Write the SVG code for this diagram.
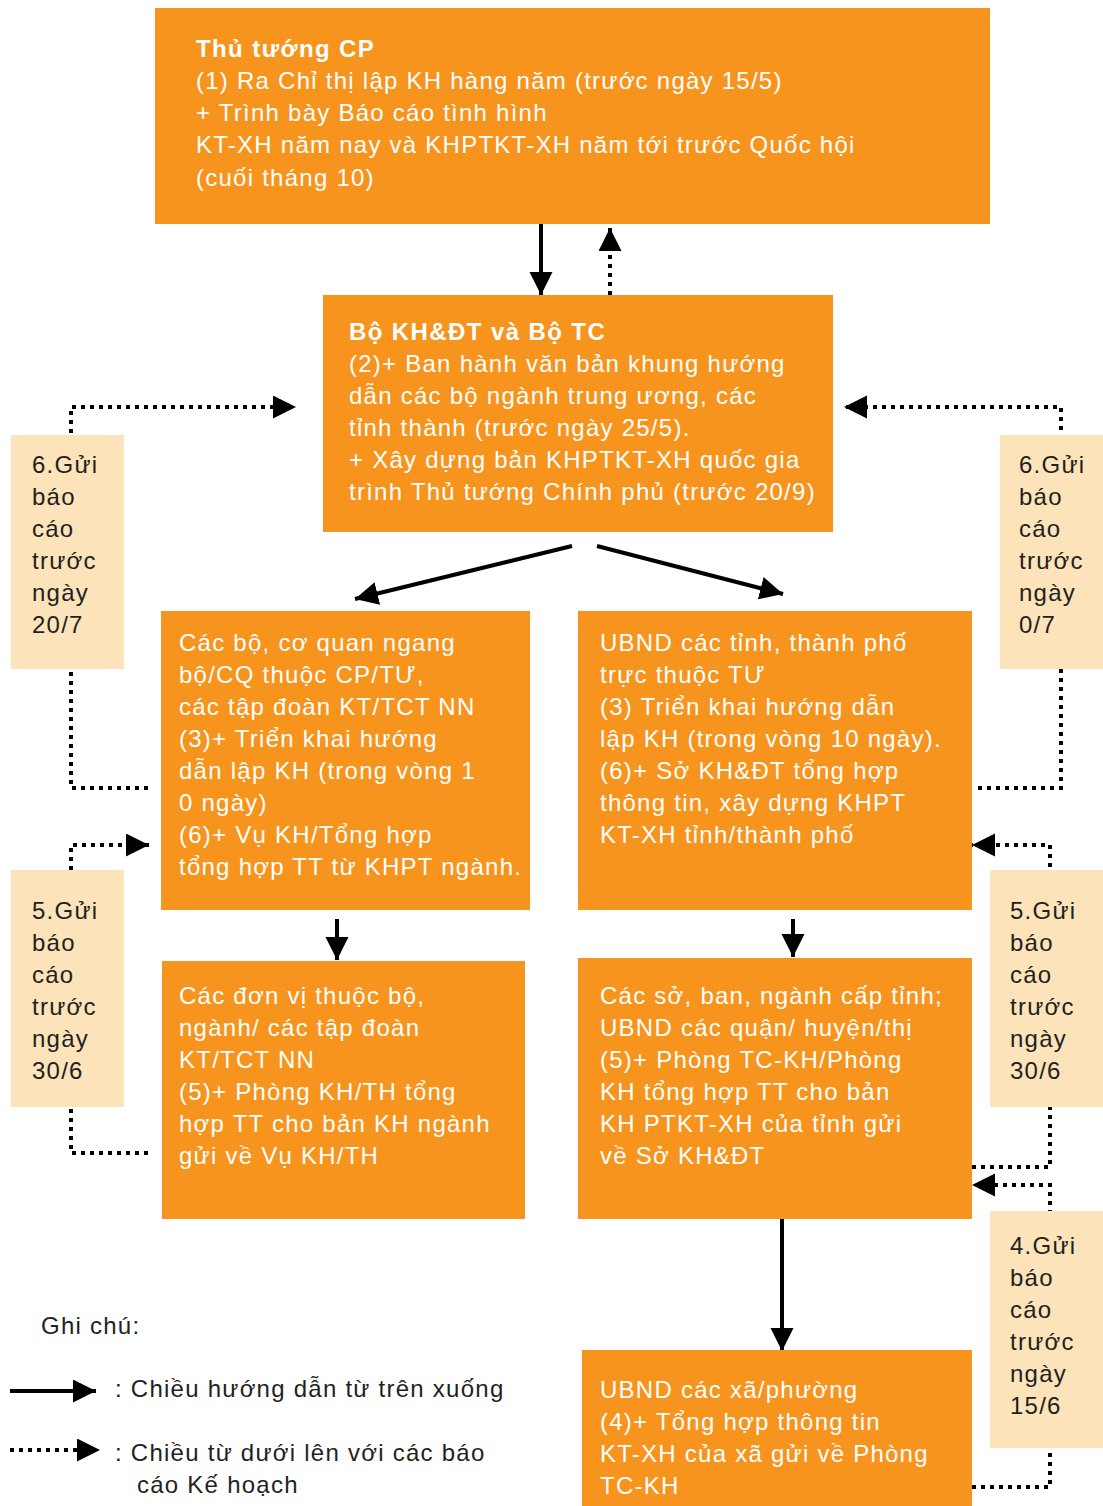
<svg xmlns="http://www.w3.org/2000/svg" width="1103" height="1506" viewBox="0 0 1103 1506">
<style>
.box{fill:#F7941E}
.note{fill:#FDE3BA}
.t{font-family:"Liberation Sans",Arial,sans-serif;font-size:24px;letter-spacing:1.25px;fill:#ffffff}
.b{font-weight:bold;letter-spacing:1.4px}
.n{font-family:"Liberation Sans",Arial,sans-serif;font-size:24px;letter-spacing:1.25px;fill:#231F20}
.solid{fill:none;stroke:#000;stroke-width:4}
.dot{fill:none;stroke:#000;stroke-width:4;stroke-dasharray:4 5}
</style>
<defs>
<marker id="ah" markerUnits="userSpaceOnUse" markerWidth="24" markerHeight="24" refX="23" refY="11.5" orient="auto">
<path d="M0,0 L23,11.5 L0,23 z" fill="#000"/>
</marker>
</defs>
<rect width="1103" height="1506" fill="#fff"/>
<g id="connectors">
<line class="solid" x1="541" y1="224" x2="541" y2="295" marker-end="url(#ah)"/>
<line class="dot" x1="610" y1="295" x2="610" y2="228" marker-end="url(#ah)"/>
<line class="solid" x1="572" y1="546" x2="355" y2="599" marker-end="url(#ah)"/>
<line class="solid" x1="597" y1="546" x2="783" y2="594" marker-end="url(#ah)"/>
<line class="solid" x1="337" y1="919" x2="337" y2="960" marker-end="url(#ah)"/>
<line class="solid" x1="793" y1="919" x2="793" y2="957" marker-end="url(#ah)"/>
<line class="solid" x1="782" y1="1219" x2="782" y2="1351" marker-end="url(#ah)"/>
<path class="dot" d="M148,788 H71 V407 H296" marker-end="url(#ah)"/>
<path class="dot" d="M978,788 H1061 V407 H844" marker-end="url(#ah)"/>
<path class="dot" d="M148,1153 H71 V845 H149" marker-end="url(#ah)"/>
<path class="dot" d="M972,1167 H1050 V845 H972" marker-end="url(#ah)"/>
<path class="dot" d="M972,1487 H1050 V1185 H972" marker-end="url(#ah)"/>
</g>
<g id="n1">
<rect class="box" x="155" y="8" width="835" height="216"/>
<text class="t b" x="196" y="57">Thủ tướng CP</text>
<text class="t" x="196" y="89">(1) Ra Chỉ thị lập KH hàng năm (trước ngày 15/5)</text>
<text class="t" x="196" y="121">+ Trình bày Báo cáo tình hình</text>
<text class="t" x="196" y="153">KT-XH năm nay và KHPTKT-XH năm tới trước Quốc hội</text>
<text class="t" x="196" y="186">(cuối tháng 10)</text>
</g>
<g id="n2">
<rect class="box" x="323" y="295" width="510" height="237"/>
<text class="t b" x="349" y="340">Bộ KH&amp;ĐT và Bộ TC</text>
<text class="t" x="349" y="372">(2)+ Ban hành văn bản khung hướng</text>
<text class="t" x="349" y="404">dẫn các bộ ngành trung ương, các</text>
<text class="t" x="349" y="436">tỉnh thành (trước ngày 25/5).</text>
<text class="t" x="349" y="468">+ Xây dựng bản KHPTKT-XH quốc gia</text>
<text class="t" x="349" y="500">trình Thủ tướng Chính phủ (trước 20/9)</text>
</g>
<g id="n3">
<rect class="box" x="161" y="611" width="369" height="299"/>
<text class="t" x="179" y="651">Các bộ, cơ quan ngang</text>
<text class="t" x="179" y="683">bộ/CQ thuộc CP/TƯ,</text>
<text class="t" x="179" y="715">các tập đoàn KT/TCT NN</text>
<text class="t" x="179" y="747">(3)+ Triển khai hướng</text>
<text class="t" x="179" y="779">dẫn lập KH (trong vòng 1</text>
<text class="t" x="179" y="811">0 ngày)</text>
<text class="t" x="179" y="843">(6)+ Vụ KH/Tổng hợp</text>
<text class="t" x="179" y="875">tổng hợp TT từ KHPT ngành.</text>
</g>
<g id="n4">
<rect class="box" x="578" y="611" width="394" height="299"/>
<text class="t" x="600" y="651">UBND các tỉnh, thành phố</text>
<text class="t" x="600" y="683">trực thuộc TƯ</text>
<text class="t" x="600" y="715">(3) Triển khai hướng dẫn</text>
<text class="t" x="600" y="747">lập KH (trong vòng 10 ngày).</text>
<text class="t" x="600" y="779">(6)+ Sở KH&amp;ĐT tổng hợp</text>
<text class="t" x="600" y="811">thông tin, xây dựng KHPT</text>
<text class="t" x="600" y="843">KT-XH tỉnh/thành phố</text>
</g>
<g id="n5">
<rect class="box" x="162" y="961" width="363" height="258"/>
<text class="t" x="179" y="1004">Các đơn vị thuộc bộ,</text>
<text class="t" x="179" y="1036">ngành/ các tập đoàn</text>
<text class="t" x="179" y="1068">KT/TCT NN</text>
<text class="t" x="179" y="1100">(5)+ Phòng KH/TH tổng</text>
<text class="t" x="179" y="1132">hợp TT cho bản KH ngành</text>
<text class="t" x="179" y="1164">gửi về Vụ KH/TH</text>
</g>
<g id="n6">
<rect class="box" x="578" y="958" width="394" height="261"/>
<text class="t" x="600" y="1004">Các sở, ban, ngành cấp tỉnh;</text>
<text class="t" x="600" y="1036">UBND các quận/ huyện/thị</text>
<text class="t" x="600" y="1068">(5)+ Phòng TC-KH/Phòng</text>
<text class="t" x="600" y="1100">KH tổng hợp TT cho bản</text>
<text class="t" x="600" y="1132">KH PTKT-XH của tỉnh gửi</text>
<text class="t" x="600" y="1164">về Sở KH&amp;ĐT</text>
</g>
<g id="n7">
<rect class="box" x="582" y="1350" width="390" height="156"/>
<text class="t" x="600" y="1398">UBND các xã/phường</text>
<text class="t" x="600" y="1430">(4)+ Tổng hợp thông tin</text>
<text class="t" x="600" y="1462">KT-XH của xã gửi về Phòng</text>
<text class="t" x="600" y="1494">TC-KH</text>
</g>
<g id="note-l6">
<rect class="note" x="11" y="435" width="113" height="234"/>
<text class="n" x="32" y="473">6.Gửi</text>
<text class="n" x="32" y="505">báo</text>
<text class="n" x="32" y="537">cáo</text>
<text class="n" x="32" y="569">trước</text>
<text class="n" x="32" y="601">ngày</text>
<text class="n" x="32" y="633">20/7</text>
</g>
<g id="note-r6">
<rect class="note" x="1000" y="435" width="103" height="234"/>
<text class="n" x="1019" y="473">6.Gửi</text>
<text class="n" x="1019" y="505">báo</text>
<text class="n" x="1019" y="537">cáo</text>
<text class="n" x="1019" y="569">trước</text>
<text class="n" x="1019" y="601">ngày</text>
<text class="n" x="1019" y="633">0/7</text>
</g>
<g id="note-l5">
<rect class="note" x="11" y="870" width="113" height="237"/>
<text class="n" x="32" y="919">5.Gửi</text>
<text class="n" x="32" y="951">báo</text>
<text class="n" x="32" y="983">cáo</text>
<text class="n" x="32" y="1015">trước</text>
<text class="n" x="32" y="1047">ngày</text>
<text class="n" x="32" y="1079">30/6</text>
</g>
<g id="note-r5">
<rect class="note" x="990" y="870" width="113" height="237"/>
<text class="n" x="1010" y="919">5.Gửi</text>
<text class="n" x="1010" y="951">báo</text>
<text class="n" x="1010" y="983">cáo</text>
<text class="n" x="1010" y="1015">trước</text>
<text class="n" x="1010" y="1047">ngày</text>
<text class="n" x="1010" y="1079">30/6</text>
</g>
<g id="note-r4">
<rect class="note" x="990" y="1211" width="113" height="237"/>
<text class="n" x="1010" y="1254">4.Gửi</text>
<text class="n" x="1010" y="1286">báo</text>
<text class="n" x="1010" y="1318">cáo</text>
<text class="n" x="1010" y="1350">trước</text>
<text class="n" x="1010" y="1382">ngày</text>
<text class="n" x="1010" y="1414">15/6</text>
</g>
<g id="legend">
<text class="n" x="41" y="1334">Ghi chú:</text>
<line class="solid" x1="10" y1="1391" x2="96" y2="1391" marker-end="url(#ah)"/>
<text class="n" x="115" y="1397">: Chiều hướng dẫn từ trên xuống</text>
<line class="dot" x1="10" y1="1450" x2="100" y2="1450" marker-end="url(#ah)"/>
<text class="n" x="115" y="1461">: Chiều từ dưới lên với các báo</text>
<text class="n" x="137" y="1493">cáo Kế hoạch</text>
</g>
</svg>
